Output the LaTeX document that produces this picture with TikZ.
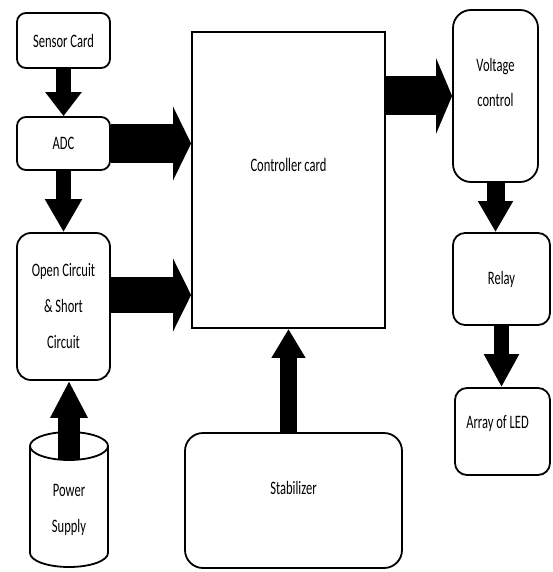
\documentclass[tikz,border=0pt]{standalone}
\usepackage{fontspec}
\setmainfont{Carlito}[FakeStretch=0.66]
\usetikzlibrary{arrows.meta,calc}

\tikzset{bloc/.style = {draw, line width=1.8pt, rounded corners=#1, fill=white,
                        minimum width=93pt, align=center, inner sep=0pt},
         bloc/.default=9pt,
         texte/.style = {yshift=#1, align=center},
         fleche/.style n args = {3}{line width=#1, -{Triangle[width=#2,length=#3]}}
        }

\begin{document}
\begin{tikzpicture}[x=1pt, y=-1pt, font=\fontsize{19}{36}\selectfont]
  \useasboundingbox (0,0) rectangle (552,572);
  % colonne de gauche
  \node[bloc, minimum height=55pt] (capteur) at (63.5,40.5) {Sensor Card};
  \node[bloc, minimum height=53pt] (adc) at (63.5,143.5) {ADC};
  \node[bloc=14pt, minimum height=147pt] (circuit) at (63.5,306.5)
       {Open Circuit\\\& Short\\Circuit};
  % alimentation (cylindre)
  \draw[line width=1.8pt, fill=white] (30,446) -- (30,553)
        arc[start angle=180, end angle=0, x radius=39, y radius=14] -- (108,446);
  \draw[line width=1.8pt, fill=white] (69,446) ellipse [x radius=39, y radius=14];
  \node[minimum width=78pt, minimum height=135pt, inner sep=0pt,
        label={[texte=-10pt]center:Power\\Supply}] (alim) at (69,499.5) {};
  % bloc central
  \node[draw, line width=1.8pt, minimum width=193pt, minimum height=296pt,
        label={[texte=15pt]center:Controller card}] (carte) at (288.5,180) {};
  \node[bloc=18pt, minimum width=217pt, minimum height=135pt,
        label={[texte=13pt]center:Stabilizer}] (stab) at (293.5,500.5) {};
  % colonne de droite
  \node[bloc=18pt, minimum width=85pt, minimum height=172pt,
        label={[texte=14pt, font=\fontsize{19}{35}\selectfont]center:Voltage\\control}] (tension) at (495.5,96) {};
  \node[bloc=12pt, minimum width=97pt, minimum height=92pt] (relais) at (501.5,279) {Relay};
  \node[bloc=12pt, minimum width=95pt, minimum height=87pt,
        label={[texte=8pt, xshift=-5pt]center:Array of LED}] (led) at (502.5,431.5) {};

  % fleches
  \draw[fleche={15pt}{35pt}{24pt}] (capteur.south) -- (adc.north);
  \draw[fleche={15pt}{35pt}{33pt}] (adc.south) -- (circuit.north);
  \draw[fleche={39pt}{73pt}{18pt}] (adc.east) -- (adc.east -| carte.west);
  \draw[fleche={36pt}{72pt}{18pt}] ([yshift=11.5pt]circuit.east) -- ([yshift=11.5pt]circuit.east -| carte.west);
  \draw[fleche={22pt}{35pt}{37pt}] ([yshift=-28pt]alim.north) -- (alim.north |- circuit.south);
  \draw[fleche={17pt}{32pt}{29pt}] (carte.south |- stab.north) -- (carte.south);
  \draw[fleche={39pt}{75pt}{16pt}] (tension.west -| carte.east) -- (tension.west);
  \draw[fleche={18pt}{33pt}{31pt}] (tension.south) -- (tension.south |- relais.north);
  \draw[fleche={15pt}{33pt}{33pt}] (relais.south) -- (relais.south |- led.north);
\end{tikzpicture}
\end{document}
